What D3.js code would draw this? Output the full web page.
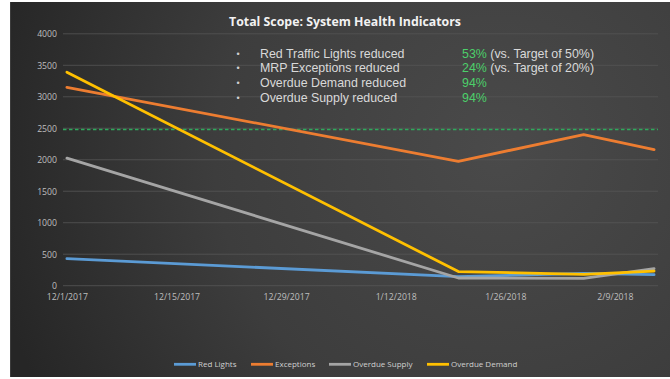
<!DOCTYPE html>
<html>
<head>
<meta charset="utf-8">
<script src="https://cdn.jsdelivr.net/npm/d3@7"></script>
<style>
  html, body { margin: 0; padding: 0; background: #ffffff; }
  svg { display: block; }
</style>
</head>
<body>
<svg id="chart" width="670" height="379"></svg>
<script>
// ---- data ----
const dates = ["2017-12-01", "2018-01-20", "2018-02-05", "2018-02-14"];
const redLights = [430, 143, 197, 175];
const exceptions = [3150, 1975, 2400, 2160];
const overdueSupply = [2025, 122, 117, 270];
const overdueDemand = [3390, 225, 180, 233];
const targetLevel = 2480;

const seriesNames = ["Red Lights", "Exceptions", "Overdue Supply", "Overdue Demand"];
const seriesColors = ["#5b9bd5", "#ed7d31", "#a5a5a5", "#ffc000"];
const yTicks = [0, 500, 1000, 1500, 2000, 2500, 3000, 3500, 4000];
const xTickDates = ["2017-12-01", "2017-12-15", "2017-12-29", "2018-01-12", "2018-01-26", "2018-02-09"];

const noteLabels = ["Red Traffic Lights reduced", "MRP Exceptions reduced", "Overdue Demand reduced", "Overdue Supply reduced"];
const notePercents = ["53%", "24%", "94%", "94%"];
const noteSuffixes = [" (vs. Target of 50%)", " (vs. Target of 20%)", "", ""];

const title = "Total Scope: System Health Indicators";

// ---- layout ----
const svg = d3.select("#chart");
const panel = { x: 10, y: 2, w: 660, h: 375 };
const plot = { left: 63, right: 658, top: 33.8, bottom: 285.7 };

const parse = d3.utcParse("%Y-%m-%d");
const fmt = d3.utcFormat("%-m/%-d/%Y");
const day = 86400000;

// background
const defs = svg.append("defs");
const grad = defs.append("radialGradient")
  .attr("id", "bg").attr("gradientUnits", "userSpaceOnUse")
  .attr("cx", 500).attr("cy", 150).attr("r", 520);
grad.append("stop").attr("offset", "0%").attr("stop-color", "#4a4a4a");
grad.append("stop").attr("offset", "55%").attr("stop-color", "#3d3d3d");
grad.append("stop").attr("offset", "100%").attr("stop-color", "#262626");

svg.append("rect")
  .attr("x", panel.x).attr("y", panel.y).attr("width", panel.w).attr("height", panel.h)
  .attr("fill", "url(#bg)");
svg.append("line")
  .attr("x1", panel.x + 0.5).attr("x2", panel.x + 0.5)
  .attr("y1", panel.y).attr("y2", panel.y + panel.h)
  .attr("stroke", "#3c3c3c");

// scales: each day occupies a slot, dates sit at slot centres
const firstDate = parse(dates[0]);
const lastDate = parse(dates[dates.length - 1]);
const x = d3.scaleUtc()
  .domain([new Date(+firstDate - day / 2), new Date(+lastDate + day / 2)])
  .range([plot.left, plot.right]);
const y = d3.scaleLinear().domain([0, 4000]).range([plot.bottom, plot.top]);

// gridlines
svg.append("g").selectAll("line").data(yTicks).join("line")
  .attr("x1", plot.left).attr("x2", plot.right)
  .attr("y1", d => y(d)).attr("y2", d => y(d))
  .attr("stroke", "#555555").attr("stroke-width", 0.8);

// y axis labels
const yAxis = svg.append("g")
  .attr("transform", `translate(${plot.left - 6},0)`)
  .call(d3.axisLeft(y).tickValues(yTicks).tickFormat(d3.format("d")).tickSize(0).tickPadding(0));
yAxis.select(".domain").remove();
yAxis.selectAll("text")
  .attr("fill", "#bfbfbf")
  .style("font-family", "'Open Sans', sans-serif")
  .style("font-size", "8.7px");

// x axis labels
const xAxis = svg.append("g")
  .attr("transform", `translate(0,${plot.bottom + 8.5})`)
  .call(d3.axisBottom(x).tickValues(xTickDates.map(parse)).tickFormat(fmt).tickSize(0).tickPadding(0));
xAxis.select(".domain").remove();
xAxis.selectAll("text")
  .attr("fill", "#bfbfbf")
  .style("font-family", "'Open Sans', sans-serif")
  .style("font-size", "8.7px");

// target line
svg.append("line")
  .attr("x1", plot.left).attr("x2", plot.right)
  .attr("y1", y(targetLevel)).attr("y2", y(targetLevel))
  .attr("stroke", "#2fa95c").attr("stroke-width", 1.3)
  .attr("stroke-dasharray", "3.5,2.5");

// series lines
const seriesValues = [redLights, exceptions, overdueSupply, overdueDemand];
const line = d3.line()
  .x((d, i) => x(parse(dates[i])))
  .y(d => y(d));
svg.append("g").selectAll("path").data(seriesValues).join("path")
  .attr("d", d => line(d))
  .attr("fill", "none")
  .attr("stroke", (d, i) => seriesColors[i])
  .attr("stroke-width", 2.8)
  .attr("stroke-linejoin", "round")
  .attr("stroke-linecap", "round");

// title
svg.append("text")
  .attr("x", 345).attr("y", 25.5)
  .attr("text-anchor", "middle")
  .attr("fill", "#f2f2f2")
  .attr("textLength", 232).attr("lengthAdjust", "spacingAndGlyphs")
  .style("font-family", "'Open Sans', sans-serif")
  .style("font-weight", "700")
  .style("font-size", "11.5px")
  .text(title);

// notes box
const notes = svg.append("g")
  .style("font-family", "'Liberation Sans', Arial, sans-serif")
  .style("font-size", "12.4px");
const noteBaselines = [57.7, 72.3, 87, 101.8];
noteLabels.forEach((label, i) => {
  notes.append("text")
    .attr("x", 236.5).attr("y", noteBaselines[i] - 1)
    .attr("fill", "#d0d0d0").style("font-size", "9px")
    .text("\u2022");
  notes.append("text")
    .attr("x", 260).attr("y", noteBaselines[i])
    .attr("fill", "#d9d9d9")
    .text(label);
  const t = notes.append("text")
    .attr("x", 462).attr("y", noteBaselines[i]);
  t.append("tspan").attr("fill", "#4cd06a").text(notePercents[i]);
  t.append("tspan").attr("fill", "#d9d9d9").text(noteSuffixes[i]);
});

// legend
const legendX = [174, 251, 329, 427];
const legendY = 364.3;
const legend = svg.append("g")
  .style("font-family", "'Open Sans', sans-serif")
  .style("font-size", "8px");
seriesNames.forEach((name, i) => {
  legend.append("line")
    .attr("x1", legendX[i]).attr("x2", legendX[i] + 22)
    .attr("y1", legendY).attr("y2", legendY)
    .attr("stroke", seriesColors[i]).attr("stroke-width", 2.8);
  legend.append("text")
    .attr("x", legendX[i] + 24).attr("y", legendY + 2.9)
    .attr("fill", "#d0d0d0")
    .text(name);
});
</script>
</body>
</html>
